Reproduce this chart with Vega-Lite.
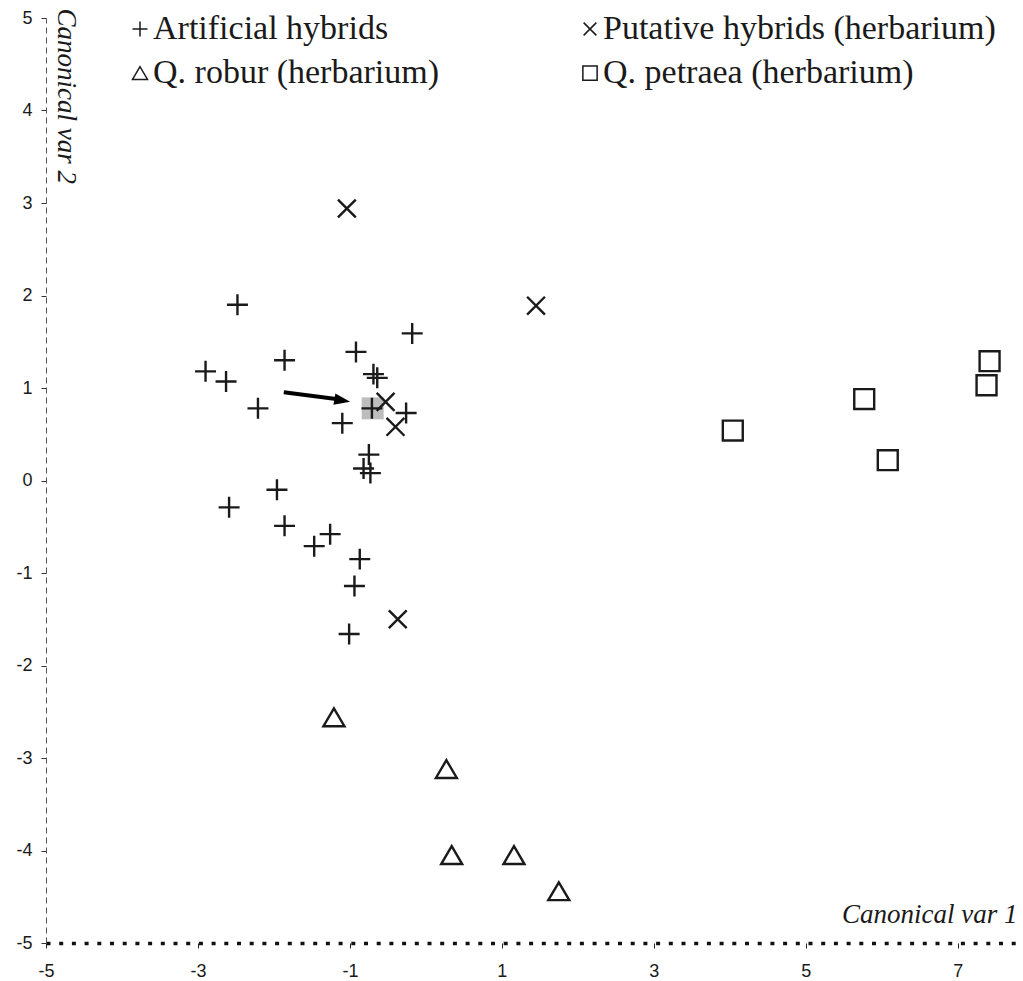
{
  "$schema": "https://vega.github.io/schema/vega-lite/v6.json",
  "width": 977,
  "height": 925,
  "autosize": {"type": "none"},
  "padding": {"left": 46, "top": 18, "right": 0, "bottom": 38},
  "config": {"view": {"stroke": null}, "font": "Liberation Sans"},
  "datasets": {
    "points": [
      {"group": "Artificial hybrids", "x": -2.48, "y": 1.90},
      {"group": "Artificial hybrids", "x": -0.18, "y": 1.59},
      {"group": "Artificial hybrids", "x": -1.86, "y": 1.30},
      {"group": "Artificial hybrids", "x": -0.92, "y": 1.39},
      {"group": "Artificial hybrids", "x": -2.90, "y": 1.18},
      {"group": "Artificial hybrids", "x": -2.63, "y": 1.07},
      {"group": "Artificial hybrids", "x": -0.69, "y": 1.15},
      {"group": "Artificial hybrids", "x": -0.64, "y": 1.11},
      {"group": "Artificial hybrids", "x": -2.21, "y": 0.78},
      {"group": "Artificial hybrids", "x": -0.71, "y": 0.78},
      {"group": "Artificial hybrids", "x": -0.26, "y": 0.73},
      {"group": "Artificial hybrids", "x": -1.10, "y": 0.62},
      {"group": "Artificial hybrids", "x": -0.75, "y": 0.28},
      {"group": "Artificial hybrids", "x": -0.82, "y": 0.13},
      {"group": "Artificial hybrids", "x": -0.73, "y": 0.08},
      {"group": "Artificial hybrids", "x": -1.96, "y": -0.10},
      {"group": "Artificial hybrids", "x": -2.59, "y": -0.29},
      {"group": "Artificial hybrids", "x": -1.86, "y": -0.49},
      {"group": "Artificial hybrids", "x": -1.26, "y": -0.58},
      {"group": "Artificial hybrids", "x": -1.47, "y": -0.71},
      {"group": "Artificial hybrids", "x": -0.87, "y": -0.85},
      {"group": "Artificial hybrids", "x": -0.94, "y": -1.14},
      {"group": "Artificial hybrids", "x": -1.01, "y": -1.66},
      {"group": "Putative hybrids (herbarium)", "x": -1.04, "y": 2.94},
      {"group": "Putative hybrids (herbarium)", "x": 1.45, "y": 1.89},
      {"group": "Putative hybrids (herbarium)", "x": -0.53, "y": 0.85},
      {"group": "Putative hybrids (herbarium)", "x": -0.40, "y": 0.58},
      {"group": "Putative hybrids (herbarium)", "x": -0.37, "y": -1.50},
      {"group": "Q. robur (herbarium)", "x": -1.21, "y": -2.56},
      {"group": "Q. robur (herbarium)", "x": 0.27, "y": -3.12},
      {"group": "Q. robur (herbarium)", "x": 0.34, "y": -4.05},
      {"group": "Q. robur (herbarium)", "x": 1.16, "y": -4.05},
      {"group": "Q. robur (herbarium)", "x": 1.75, "y": -4.44},
      {"group": "Q. petraea (herbarium)", "x": 4.04, "y": 0.54},
      {"group": "Q. petraea (herbarium)", "x": 5.77, "y": 0.88},
      {"group": "Q. petraea (herbarium)", "x": 6.08, "y": 0.22},
      {"group": "Q. petraea (herbarium)", "x": 7.42, "y": 1.29},
      {"group": "Q. petraea (herbarium)", "x": 7.38, "y": 1.03}
    ],
    "highlight": [{"x": -0.70, "y": 0.78}],
    "arrowline": [{"x": -1.87, "y": 0.955, "x2": -1.18, "y2": 0.88}],
    "arrowhead": [{"x": -1.10, "y": 0.865}]
  },
  "encoding": {
    "x": {
      "field": "x", "type": "quantitative",
      "scale": {"domain": [-5, 7.86], "nice": false, "zero": false},
      "axis": {
        "title": "Canonical var 1",
        "titleFont": "Liberation Serif", "titleFontStyle": "italic", "titleFontWeight": "normal", "titleFontSize": 27, "titleColor": "#1a1a1a",
        "titleX": 971, "titleY": -21, "titleAlign": "right", "titleBaseline": "alphabetic", "titleAngle": 0,
        "values": [-5, -3, -1, 1, 3, 5, 7],
        "labelExpr": "toString(datum.value)",
        "labelFlush": false, "labelOverlap": false,
        "domainDash": [4, 8.7], "domainWidth": 3.5, "domainColor": "#111", "domainCap": "butt",
        "tickSize": 5, "tickColor": "#222", "tickWidth": 1,
        "labelFont": "Liberation Sans", "labelFontSize": 18, "labelColor": "#1a1a1a", "labelPadding": 14,
        "grid": false
      }
    },
    "y": {
      "field": "y", "type": "quantitative",
      "scale": {"domain": [-5, 5], "nice": false, "zero": false},
      "axis": {
        "title": "Canonical var 2",
        "titleFont": "Liberation Serif", "titleFontStyle": "italic", "titleFontWeight": "normal", "titleFontSize": 27, "titleColor": "#1a1a1a",
        "titleAngle": 90, "titleX": 11, "titleY": -10, "titleAlign": "left", "titleBaseline": "alphabetic",
        "values": [-5, -4, -3, -2, -1, 0, 1, 2, 3, 4, 5],
        "labelExpr": "toString(datum.value)",
        "labelFlush": false, "labelOverlap": false,
        "domainDash": [6, 4], "domainColor": "#555", "domainWidth": 1,
        "tickSize": 5, "tickColor": "#333", "tickWidth": 1,
        "labelFont": "Liberation Sans", "labelFontSize": 18, "labelColor": "#1a1a1a", "labelPadding": 9,
        "grid": false
      }
    }
  },
  "layer": [
    {
      "data": {"name": "highlight"},
      "mark": {"type": "point", "shape": "square", "filled": true, "color": "#bdbdbd", "size": 484, "opacity": 1}
    },
    {
      "data": {"name": "points"},
      "mark": {"type": "point", "filled": false, "strokeWidth": 2.4, "size": 440, "color": "#1a1a1a", "opacity": 1},
      "encoding": {
        "shape": {
          "field": "group", "type": "nominal",
          "scale": {
            "domain": ["Artificial hybrids", "Q. robur (herbarium)", "Putative hybrids (herbarium)", "Q. petraea (herbarium)"],
            "range": ["M-1,0L1,0M0,-1L0,1", "M0,-0.85L-1,0.85L1,0.85Z", "M-0.85,-0.85L0.85,0.85M-0.85,0.85L0.85,-0.85", "M-0.95,-0.95L0.95,-0.95L0.95,0.95L-0.95,0.95Z"]
          },
          "legend": {
            "orient": "none", "legendX": 77, "legendY": -6, "columns": 2, "title": null,
            "labelFont": "Liberation Serif", "labelFontSize": 34, "labelColor": "#1a1a1a", "labelLimit": 600,
            "symbolSize": 225, "symbolStrokeWidth": 1.5, "symbolStrokeColor": "#1a1a1a", "symbolFillColor": "transparent",
            "labelOffset": -4, "columnPadding": 133, "rowPadding": 10, "padding": 0
          }
        }
      }
    },
    {
      "data": {"name": "arrowline"},
      "mark": {"type": "rule", "strokeWidth": 4, "color": "#000"},
      "encoding": {
        "x2": {"field": "x2"},
        "y2": {"field": "y2"}
      }
    },
    {
      "data": {"name": "arrowhead"},
      "mark": {"type": "point", "shape": "M1,0L-1,-0.7L-1,0.7Z", "filled": true, "color": "#000", "size": 256, "angle": 9.9, "opacity": 1}
    }
  ]
}
